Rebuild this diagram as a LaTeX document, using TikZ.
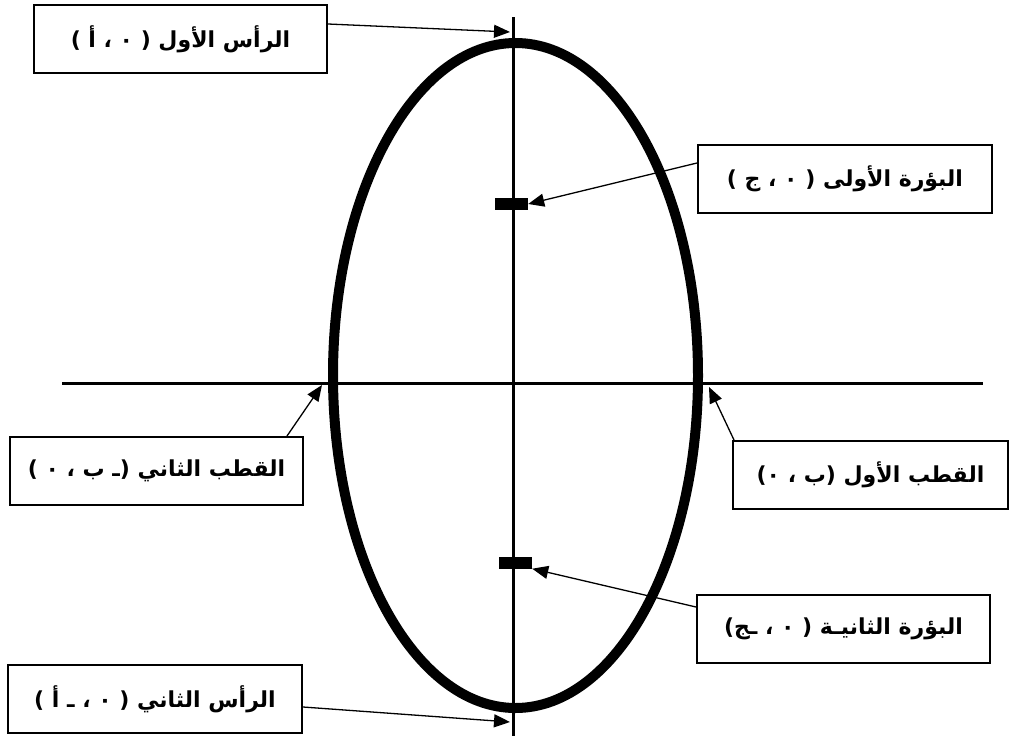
\documentclass[tikz,border=0pt]{standalone}
\usepackage{fontspec}
\usetikzlibrary{arrows.meta}
\TeXXeTstate=1
\newfontfamily\arabicfont[Script=Arabic]{DejaVu Sans}
\begin{document}
\begin{tikzpicture}[x=1pt,y=-1pt,
  labelbox/.style={draw=black,line width=2pt,fill=white,minimum width=#1,minimum height=68pt,inner sep=0pt,
    font=\arabicfont\bfseries\fontsize{22}{25}\selectfont},
  pointer/.style={line width=1.3pt,-{Triangle[length=16pt,width=13pt]}},
  focusmark/.style={fill=black,inner sep=0pt,minimum width=33pt,minimum height=12pt}]
\useasboundingbox (0,0) rectangle (1015,736);
% axes
\coordinate (vtop) at (513,17);
\coordinate (vbot) at (513,736);
\coordinate (hleft) at (62,383);
\coordinate (hright) at (983,383);
\draw[line width=3pt] (vtop) -- (vbot);
\draw[line width=3pt] (hleft) -- (hright);
% ellipse
\draw[line width=10pt] (515.5,375.5) ellipse [x radius=182.5, y radius=332.5];
% foci
\node[focusmark] (f1) at (511.5,204) {};
\node[focusmark] (f2) at (515.5,562.5) {};
% tips
\coordinate (tipA) at (510,32);
\coordinate (tipB) at (510,722);
\coordinate (tipL) at (322,385);
\coordinate (tipR) at (709,387);
% boxes
\node[labelbox=293pt] (b1) at (180.5,39) {\beginR الرأس الأول ( ٠ ، أ )\endR};
\node[labelbox=294pt] (b2) at (845,179) {\beginR البؤرة الأولى ( ٠ ، ج )\endR};
\node[labelbox=293pt] (b3) at (156.5,471) {\beginR القطب الثاني (ـ ب ، ٠ )\endR};
\node[labelbox=275pt] (b4) at (870.5,475) {\beginR القطب الأول (ب ، ٠)\endR};
\node[labelbox=293pt] (b5) at (843.5,629) {\beginR البؤرة الثانيـة ( ٠ ، ـج)\endR};
\node[labelbox=294pt] (b6) at (155,699) {\beginR الرأس الثاني ( ٠ ، ـ أ )\endR};
% pointers
\draw[pointer] ([yshift=15pt]b1.east) -- (tipA);
\draw[pointer] ([yshift=16pt]b2.west) -- (f1.east);
\draw[pointer] ([xshift=130.5pt]b3.north) -- (tipL);
\draw[pointer] ([xshift=2pt]b4.north west) -- (tipR);
\draw[pointer] ([yshift=22pt]b5.west) -- (f2.south east);
\draw[pointer] ([yshift=-8pt]b6.east) -- (tipB);
\end{tikzpicture}
\end{document}
